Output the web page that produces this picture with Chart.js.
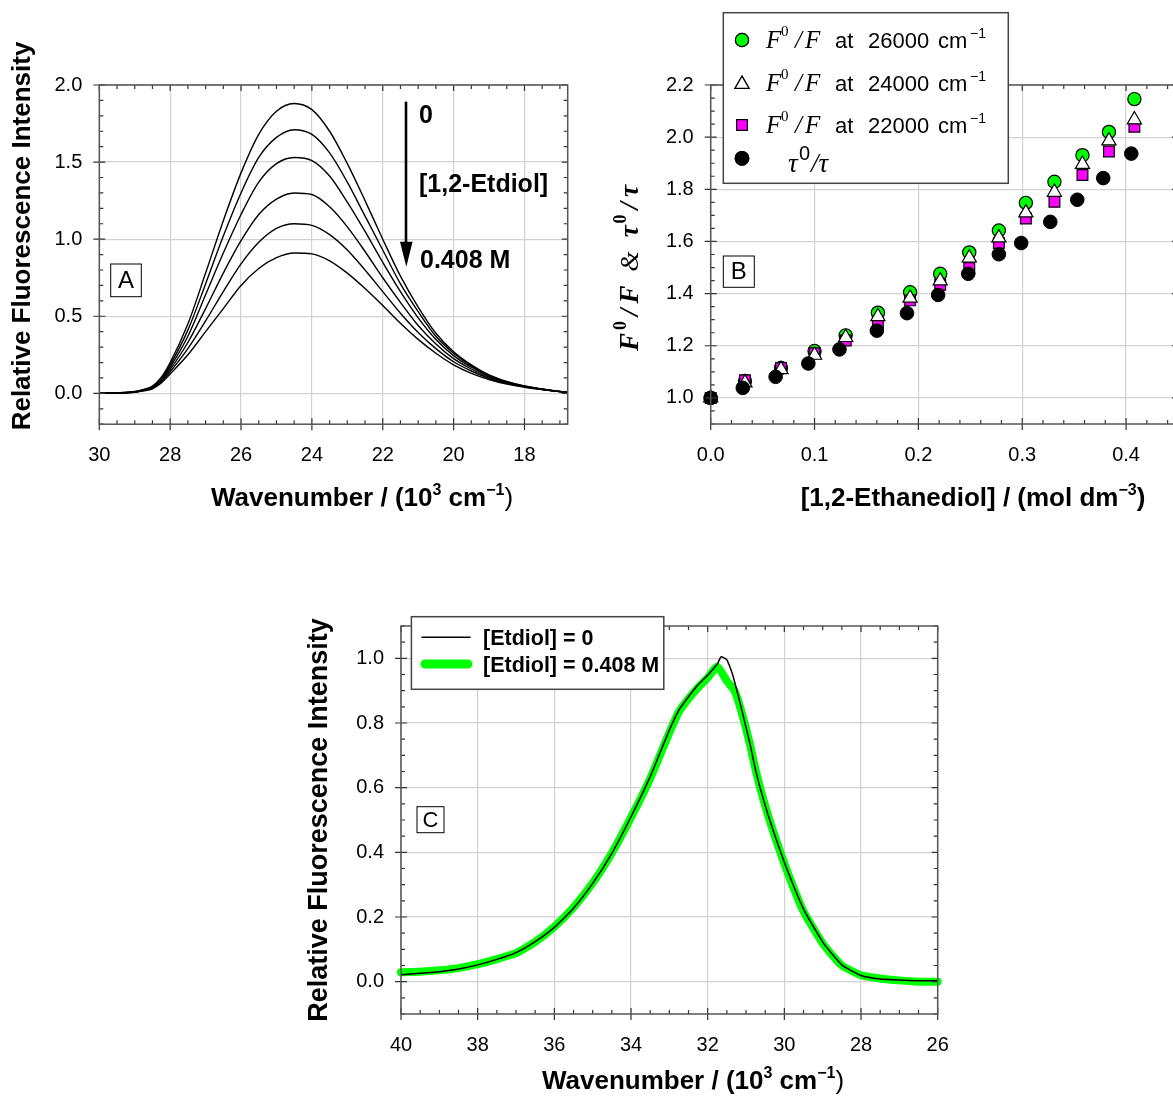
<!DOCTYPE html>
<html><head><meta charset="utf-8">
<script src="https://cdn.jsdelivr.net/npm/chart.js@4/dist/chart.umd.min.js"></script>
<style>
html,body{margin:0;padding:0;background:#fff;overflow:hidden;width:1173px;height:1097px;position:relative;}
canvas{position:absolute;}
</style></head><body>
<canvas id="cA" width="600" height="540" style="left:0px;top:0px"></canvas>
<canvas id="cB" width="620" height="540" style="left:590px;top:0px"></canvas>
<canvas id="cC" width="720" height="507" style="left:270px;top:590px"></canvas>
<script>
// ---------------- DATA ----------------
// Panel A: emission spectra vs wavenumber (10^3 cm^-1) for increasing [1,2-Etdiol]
const aWavenumber = [30,29.5,29,28.75,28.5,28.25,28,27.5,27,26.5,26,25.5,25,24.5,24,23.5,23,22.5,22,21.5,21,20.5,20,19.5,19,18.5,18,17.5,17,16.8];
const aSpec1 = [0,0.003,0.012,0.025,0.047,0.105,0.20,0.45,0.78,1.12,1.43,1.68,1.83,1.88,1.84,1.70,1.49,1.25,1.00,0.76,0.56,0.39,0.27,0.185,0.12,0.077,0.048,0.028,0.012,0.008];
const aSpec2 = [0,0.003,0.011,0.023,0.044,0.097,0.185,0.41,0.71,1.02,1.30,1.53,1.66,1.71,1.68,1.56,1.37,1.15,0.93,0.71,0.53,0.37,0.26,0.178,0.116,0.075,0.047,0.027,0.012,0.008];
const aSpec3 = [0,0.003,0.010,0.022,0.041,0.09,0.17,0.37,0.64,0.91,1.16,1.37,1.49,1.53,1.51,1.41,1.24,1.05,0.85,0.66,0.49,0.35,0.245,0.17,0.112,0.073,0.046,0.027,0.012,0.008];
const aSpec4 = [0,0.002,0.009,0.02,0.037,0.082,0.155,0.33,0.55,0.78,0.99,1.16,1.26,1.30,1.29,1.21,1.08,0.92,0.75,0.59,0.44,0.32,0.225,0.158,0.105,0.069,0.044,0.026,0.011,0.007];
const aSpec5 = [0,0.002,0.008,0.018,0.034,0.075,0.14,0.29,0.47,0.66,0.84,0.98,1.07,1.10,1.09,1.03,0.93,0.80,0.66,0.52,0.395,0.29,0.205,0.145,0.098,0.065,0.042,0.025,0.011,0.007];
const aSpec6 = [0,0.002,0.007,0.016,0.03,0.067,0.125,0.25,0.40,0.55,0.70,0.81,0.88,0.91,0.905,0.86,0.78,0.68,0.57,0.455,0.35,0.26,0.185,0.13,0.09,0.06,0.04,0.024,0.011,0.007];
const aXTicks = [30,28,26,24,22,20,18];
const aYTicks = [0,0.5,1.0,1.5,2.0];

// Panel B: Stern-Volmer data vs [1,2-Ethanediol] (mol dm^-3)
const bConcF = [0,0.033,0.0677,0.1,0.13,0.161,0.192,0.221,0.249,0.2775,0.3035,0.331,0.358,0.3835,0.408];
const bF26000 = [1.0,1.065,1.115,1.18,1.24,1.327,1.405,1.476,1.558,1.642,1.748,1.829,1.931,2.02,2.146];
const bF24000 = [1.0,1.058,1.109,1.164,1.232,1.312,1.383,1.449,1.537,1.614,1.71,1.789,1.896,1.986,2.067];
const bF22000 = [1.0,1.068,1.115,1.171,1.22,1.289,1.374,1.434,1.498,1.594,1.688,1.752,1.855,1.945,2.04];
const bConcTau = [0,0.0309,0.0625,0.094,0.124,0.160,0.189,0.219,0.248,0.2775,0.299,0.327,0.353,0.378,0.405];
const bTauRatio = [1.0,1.0385,1.081,1.132,1.186,1.258,1.325,1.395,1.476,1.551,1.594,1.675,1.760,1.843,1.937];
const bXTicks = [0,0.1,0.2,0.3,0.4];
const bYTicks = [1.0,1.2,1.4,1.6,1.8,2.0,2.2];

// Panel C: normalized spectra
const cWaveBlack = [40,39.5,39,38.5,38,37.5,37,36.5,36,35.5,35,34.5,34,33.5,33,32.75,32.5,32.25,32,31.75,31.65,31.5,31.36,31.13,30.9,30.73,30.49,30.22,29.89,29.49,28.98,28.5,28,27.5,27,26.5,26];
const cEtdiol0 = [0.021,0.026,0.031,0.039,0.052,0.069,0.09,0.124,0.168,0.227,0.304,0.397,0.51,0.634,0.778,0.84,0.881,0.918,0.948,0.982,1.005,0.995,0.954,0.85,0.737,0.644,0.541,0.443,0.335,0.222,0.119,0.052,0.019,0.008,0.005,0.003,0.003];
const cWaveGreen = [40,39.5,39,38.5,38,37.5,37,36.5,36,35.5,35,34.5,34,33.5,33,32.75,32.5,32.25,32,31.75,31.5,31.3,31.13,30.9,30.73,30.49,30.22,29.89,29.49,28.98,28.5,28,27.5,27,26.5,26];
const cEtdiol408 = [0.029,0.031,0.035,0.042,0.054,0.07,0.088,0.123,0.17,0.23,0.305,0.398,0.508,0.628,0.77,0.835,0.875,0.91,0.94,0.975,0.93,0.9,0.84,0.735,0.645,0.54,0.44,0.33,0.215,0.115,0.05,0.02,0.01,0.004,0.0,0.0];
const cXTicks = [40,38,36,34,32,30,28,26];
const cYTicks = [0,0.2,0.4,0.6,0.8,1.0];

// ---------------- HELPERS ----------------
const SANS = '"Liberation Sans", Arial, Helvetica, sans-serif';
const SERIF = '"Liberation Serif", "Times New Roman", serif';
Chart.defaults.font.family = SANS;
Chart.defaults.color = '#000';

function pts(xs, ys){ return xs.map((x,i)=>({x:x, y:ys[i]})); }
function minorList(min, max, step, majors){
  const out=[]; const k0=Math.ceil(min/step-1e-9), k1=Math.floor(max/step+1e-9);
  for(let k=k0;k<=k1;k++){ const v=k*step; if(!majors.some(m=>Math.abs(m-v)<step/10)) out.push(v); }
  return out;
}
function framePlugin(xMaj, xStep, yMaj, yStep){
  return { id:'frame', afterDatasetsDraw(chart){
    const ctx=chart.ctx, a=chart.chartArea, xs=chart.scales.x, ys=chart.scales.y;
    const xMin=minorList(xs.min, xs.max, xStep, xMaj), yMin=minorList(ys.min, ys.max, yStep, yMaj);
    ctx.save();
    ctx.strokeStyle='#333'; ctx.lineWidth=1.2; ctx.beginPath();
    xMaj.forEach(v=>{ const p=xs.getPixelForValue(v); ctx.moveTo(p,a.bottom+6); ctx.lineTo(p,a.bottom-6); ctx.moveTo(p,a.top); ctx.lineTo(p,a.top+6); });
    xMin.forEach(v=>{ const p=xs.getPixelForValue(v); ctx.moveTo(p,a.bottom); ctx.lineTo(p,a.bottom-4); ctx.moveTo(p,a.top); ctx.lineTo(p,a.top+4); });
    yMaj.forEach(v=>{ const p=ys.getPixelForValue(v); ctx.moveTo(a.left-6,p); ctx.lineTo(a.left+6,p); ctx.moveTo(a.right,p); ctx.lineTo(a.right-6,p); });
    yMin.forEach(v=>{ const p=ys.getPixelForValue(v); ctx.moveTo(a.left,p); ctx.lineTo(a.left+4,p); ctx.moveTo(a.right,p); ctx.lineTo(a.right-4,p); });
    ctx.stroke();
    ctx.strokeStyle='#555'; ctx.lineWidth=1.5;
    ctx.strokeRect(a.left, a.top, a.right-a.left, a.bottom-a.top);
    ctx.restore();
  }};
}
// rich text: parts [{t, f, dy, gap}]
function rich(ctx, parts, x, y, align, rot){
  ctx.save(); ctx.translate(x,y); if(rot) ctx.rotate(rot);
  let w=0; parts.forEach(p=>{ ctx.font=p.f; w+=ctx.measureText(p.t).width+(p.gap||0); });
  let cx = align==='center' ? -w/2 : (align==='right' ? -w : 0);
  ctx.textBaseline='alphabetic'; ctx.textAlign='left'; ctx.fillStyle='#000';
  parts.forEach(p=>{ ctx.font=p.f; cx+=(p.gap||0); ctx.fillText(p.t, cx, p.dy||0); cx+=ctx.measureText(p.t).width; });
  ctx.restore();
}
function boxLabel(ctx, letter, x, y, w, h, size){
  ctx.save(); ctx.fillStyle='#fff'; ctx.fillRect(x,y,w,h);
  ctx.strokeStyle='#000'; ctx.lineWidth=1; ctx.strokeRect(x,y,w,h);
  ctx.fillStyle='#000'; ctx.font=size+'px '+SANS; ctx.textAlign='center'; ctx.textBaseline='middle';
  ctx.fillText(letter, x+w/2, y+h/2+1); ctx.restore();
}
function scaleCommon(ticksArr, fit, pad, fmt){
  return {
    type:'linear',
    afterBuildTicks: s=>{ s.ticks = ticksArr.map(v=>({value:v})); },
    afterFit: fit,
    ticks:{ padding:pad, font:{size:20}, color:'#000', autoSkip:false, maxRotation:0, callback: fmt },
    grid:{ color:'#d2d2d2', lineWidth:1.2, drawTicks:false },
    border:{ display:false }
  };
}
const baseOpts = { responsive:false, animation:false, devicePixelRatio:1, events:[],
  plugins:{ legend:{display:false}, tooltip:{enabled:false} } };

// ---------------- PANEL A ----------------
const specs = [aSpec1,aSpec2,aSpec3,aSpec4,aSpec5,aSpec6];
new Chart(document.getElementById('cA'), {
  type:'line',
  data:{ datasets: specs.map(s=>({ data: pts(aWavenumber, s), borderColor:'#000', borderWidth:1.4, pointRadius:0, fill:false, cubicInterpolationMode:'monotone' })) },
  options:Object.assign({}, baseOpts, {
    layout:{ padding:{ left:39.3, top:85, right:32.3, bottom:65.8 } },
    scales:{
      x: Object.assign(scaleCommon(aXTicks, s=>{ s.height=50; }, 19, v=>String(v)), { min:16.78, max:30, reverse:true }),
      y: Object.assign(scaleCommon(aYTicks, s=>{ s.width=60; }, 17, v=>Number(v).toFixed(1)), { min:-0.2, max:2.0 })
    }
  }),
  plugins:[ framePlugin(aXTicks, 0.5, aYTicks, 0.1), { id:'ovA', afterDraw(chart){
    const ctx=chart.ctx;
    const B='bold 26px '+SANS, Bs='bold 16px '+SANS, R='26px '+SANS;
    rich(ctx, [{t:'Wavenumber / (10',f:B},{t:'3',f:Bs,dy:-11},{t:' cm',f:B},{t:'\u22121',f:Bs,dy:-11},{t:')',f:R}], 362, 506, 'center');
    rich(ctx, [{t:'Relative Fluorescence Intensity',f:B}], 30, 236, 'center', -Math.PI/2);
    // arrow
    ctx.save(); ctx.strokeStyle='#000'; ctx.fillStyle='#000'; ctx.lineWidth=2.6;
    ctx.beginPath(); ctx.moveTo(406,101.7); ctx.lineTo(406,248); ctx.stroke();
    ctx.beginPath(); ctx.moveTo(400,241.7); ctx.lineTo(412.6,241.7); ctx.lineTo(406.3,266.7); ctx.closePath(); ctx.fill();
    ctx.restore();
    const BA='bold 25px '+SANS;
    rich(ctx, [{t:'0',f:BA}], 419, 123, 'left');
    rich(ctx, [{t:'[1,2-Etdiol]',f:BA}], 419, 192, 'left');
    rich(ctx, [{t:'0.408 M',f:BA}], 420, 268, 'left');
    boxLabel(ctx, 'A', 110.7, 264, 30.6, 32.7, 24);
  }} ]
});

// ---------------- PANEL B ----------------
const OB = 590;
new Chart(document.getElementById('cB'), {
  type:'scatter',
  data:{ datasets:[
    { label:'tau', data: pts(bConcTau, bTauRatio), pointStyle:'circle', pointRadius:6.8, backgroundColor:'#000', borderColor:'#000', borderWidth:1, order:0, clip:false },
    { label:'24000', data: pts(bConcF, bF24000), pointStyle:'triangle', pointRadius:8.2, backgroundColor:'#fff', borderColor:'#000', borderWidth:1.2, order:1, clip:false },
    { label:'22000', data: pts(bConcF, bF22000), pointStyle:'rect', pointRadius:7.6, backgroundColor:'#ff00ff', borderColor:'#000', borderWidth:1.2, order:2, clip:false },
    { label:'26000', data: pts(bConcF, bF26000), pointStyle:'circle', pointRadius:6.6, backgroundColor:'#00ff00', borderColor:'#000', borderWidth:1.2, order:3, clip:false }
  ]},
  options:Object.assign({}, baseOpts, {
    layout:{ padding:{ left:60.7, top:85, right:32, bottom:66 } },
    scales:{
      x: Object.assign(scaleCommon(bXTicks, s=>{ s.height=50; }, 19, v=>Number(v).toFixed(1)), { min:0, max:0.45 }),
      y: Object.assign(scaleCommon(bYTicks, s=>{ s.width=60; }, 17, v=>Number(v).toFixed(1)), { min:0.9, max:2.2 })
    }
  }),
  plugins:[ framePlugin(bXTicks, 0.02, bYTicks, 0.05), { id:'ovB', afterDraw(chart){
    const ctx=chart.ctx; ctx.save(); ctx.translate(-OB,0);
    const B='bold 26px '+SANS, Bs='bold 16px '+SANS;
    rich(ctx, [{t:'[1,2-Ethanediol] / (mol dm',f:B},{t:'\u22123',f:Bs,dy:-11},{t:')',f:B}], 973, 506, 'center');
    const T='italic bold 27px '+SERIF, Ts='bold 18px '+SERIF, Tr='italic 26px '+SERIF;
    rich(ctx, [{t:'F',f:T},{t:'0',f:Ts,dy:-12,gap:3},{t:'/',f:T,gap:5},{t:'F',f:T,gap:5},{t:'&',f:Tr,gap:14},{t:'\u03C4',f:T,gap:14},{t:'0',f:Ts,dy:-12,gap:2},{t:'/',f:T,gap:5},{t:'\u03C4',f:T,gap:5}], 638, 268, 'center', -Math.PI/2);
    boxLabel(ctx, 'B', 723.3, 256, 31, 31.3, 24);
    // legend
    ctx.fillStyle='#fff'; ctx.fillRect(723.3,12.7,285,170.6);
    ctx.strokeStyle='#444'; ctx.lineWidth=1.5; ctx.strokeRect(723.3,12.7,285,170.6);
    const H = Chart.helpers;
    const mk = (style, r, fill, y)=>{ ctx.fillStyle=fill; ctx.strokeStyle='#000'; ctx.lineWidth=1.2; H.drawPoint(ctx, {pointStyle:style, radius:r, borderWidth:1.2}, 742, y); ctx.fill(); ctx.stroke(); };
    const FI='italic 25px '+SERIF, FS='15px '+SERIF, L='22px '+SANS, LS='14px '+SANS;
    const rowsY=[40,83.3,125];
    const rowTxt=['26000','24000','22000'];
    mk('circle',6.6,'#00ff00',rowsY[0]); mk('triangle',8.2,'#fff',rowsY[1]+1); mk('rect',7.6,'#ff00ff',rowsY[2]); mk('circle',6.8,'#000',158.3);
    rowsY.forEach((y,i)=>{
      const bl=y+8;
      rich(ctx,[{t:'F',f:FI}],766,bl,'left');
      rich(ctx,[{t:'0',f:FS}],781,bl-12,'left');
      rich(ctx,[{t:'/',f:FI}],795,bl,'left');
      rich(ctx,[{t:'F',f:FI}],805,bl,'left');
      rich(ctx,[{t:'at',f:L}],835,bl,'left');
      rich(ctx,[{t:rowTxt[i],f:L}],868,bl,'left');
      rich(ctx,[{t:'cm',f:L}],938,bl,'left');
      rich(ctx,[{t:'\u22121',f:LS}],970,bl-10,'left');
    });
    rich(ctx,[{t:'\u03C4',f:'italic 27px '+SERIF}],788,172,'left');
    rich(ctx,[{t:'0',f:'20px '+SANS}],799,160,'left');
    rich(ctx,[{t:'/\u03C4',f:'italic 27px '+SERIF}],811,172,'left');
    ctx.restore();
  }} ]
});

// ---------------- PANEL C ----------------
const OCX = 270, OCY = 590;
new Chart(document.getElementById('cC'), {
  type:'line',
  data:{ datasets:[
    { label:'[Etdiol] = 0', data: pts(cWaveBlack, cEtdiol0), borderColor:'#000', borderWidth:1.5, pointRadius:0, tension:0.15, order:0 },
    { label:'[Etdiol] = 0.408 M', data: pts(cWaveGreen, cEtdiol408), borderColor:'#00ff00', borderWidth:8, pointRadius:0, tension:0.15, borderCapStyle:'round', borderJoinStyle:'round', clip:8, order:1 }
  ]},
  options:Object.assign({}, baseOpts, {
    layout:{ padding:{ left:71, top:36, right:52.3, bottom:33 } },
    scales:{
      x: Object.assign(scaleCommon(cXTicks, s=>{ s.height=50; }, 19, v=>String(v)), { min:26, max:40, reverse:true }),
      y: Object.assign(scaleCommon(cYTicks, s=>{ s.width=60; }, 17, v=>Number(v).toFixed(1)), { min:-0.1, max:1.1 })
    }
  }),
  plugins:[ framePlugin(cXTicks, 0.5, cYTicks, 0.05), { id:'ovC', afterDraw(chart){
    const ctx=chart.ctx; ctx.save(); ctx.translate(-OCX,-OCY);
    const B='bold 26px '+SANS, Bs='bold 16px '+SANS, R='26px '+SANS;
    rich(ctx, [{t:'Wavenumber / (10',f:B},{t:'3',f:Bs,dy:-11},{t:' cm',f:B},{t:'\u22121',f:Bs,dy:-11},{t:')',f:R}], 693, 1089, 'center');
    rich(ctx, [{t:'Relative Fluorescence Intensity',f:'bold 27px '+SANS}], 327, 820, 'center', -Math.PI/2);
    boxLabel(ctx, 'C', 417, 806.7, 27, 26, 22);
    // legend
    ctx.fillStyle='#fff'; ctx.fillRect(411.4,616.7,252.4,72.6);
    ctx.strokeStyle='#444'; ctx.lineWidth=1.5; ctx.strokeRect(411.4,616.7,252.4,72.6);
    ctx.lineCap='round';
    ctx.strokeStyle='#000'; ctx.lineWidth=1.5; ctx.beginPath(); ctx.moveTo(422,637.3); ctx.lineTo(470,637.3); ctx.stroke();
    ctx.strokeStyle='#00ff00'; ctx.lineWidth=9; ctx.beginPath(); ctx.moveTo(425,664); ctx.lineTo(468,664); ctx.stroke();
    const LB='bold 21.5px '+SANS;
    rich(ctx,[{t:'[Etdiol] = 0',f:LB}],483,645,'left');
    rich(ctx,[{t:'[Etdiol] = 0.408 M',f:LB}],483,672,'left');
    ctx.restore();
  }} ]
});
</script>
</body></html>
